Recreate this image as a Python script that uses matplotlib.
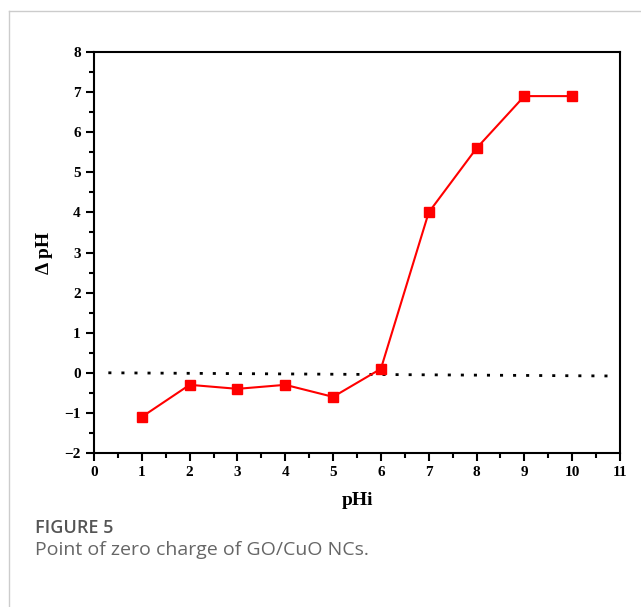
import matplotlib.pyplot as plt
from matplotlib.lines import Line2D
from matplotlib.ticker import MultipleLocator

# data
phi = [1, 2, 3, 4, 5, 6, 7, 8, 9, 10]
delta_ph = [-1.1, -0.3, -0.4, -0.3, -0.6, 0.1, 4.0, 5.6, 6.9, 6.9]
zero_x = [0.3, 10.9]
zero_y = [0.0, -0.08]

plt.rcParams['font.family'] = ['Liberation Serif', 'DejaVu Serif']

fig = plt.figure(figsize=(6.41, 6.07), dpi=100)
ax = fig.add_axes([94 / 641, 1 - 453 / 607, 526 / 641, 401 / 607])

ax.plot(zero_x, zero_y, color='black', linestyle=(0, (1.1, 3.6)), linewidth=2.0)
ax.plot(phi, delta_ph, color='#ff0000', linewidth=1.5, marker='s', markersize=7)

ax.set_xlim(0, 11)
ax.set_ylim(-2, 8)
ax.xaxis.set_major_locator(MultipleLocator(1))
ax.xaxis.set_minor_locator(MultipleLocator(0.5))
ax.yaxis.set_major_locator(MultipleLocator(1))
ax.yaxis.set_minor_locator(MultipleLocator(0.5))
ax.tick_params(which='major', direction='out', length=6, width=1.5, labelsize=11)
ax.tick_params(which='minor', direction='out', length=3.5, width=1.5)
for lab in ax.get_xticklabels() + ax.get_yticklabels():
    lab.set_fontweight('bold')
for sp in ax.spines.values():
    sp.set_linewidth(1.5)

ax.set_xlabel('pHi', fontsize=14, fontweight='bold', labelpad=9)
ax.set_ylabel('Δ pH', fontsize=14, fontweight='bold', labelpad=8)

# page frame and caption
fig.add_artist(Line2D([9 / 641, 1], [1 - 11 / 607, 1 - 11 / 607], color='#cccccc', linewidth=1))
fig.add_artist(Line2D([9 / 641, 9 / 641], [0, 1 - 11 / 607], color='#cccccc', linewidth=1))
fig.text(35 / 641, 1 - 528 / 607, 'FIGURE 5', fontsize=13, color='#555555',
         family='Open Sans', fontweight='semibold', va='center')
fig.text(35 / 641, 1 - 550 / 607, 'Point of zero charge of GO/CuO NCs.', fontsize=14,
         color='#666666', family='Open Sans', va='center')

fig.savefig('out.png', dpi=100)
